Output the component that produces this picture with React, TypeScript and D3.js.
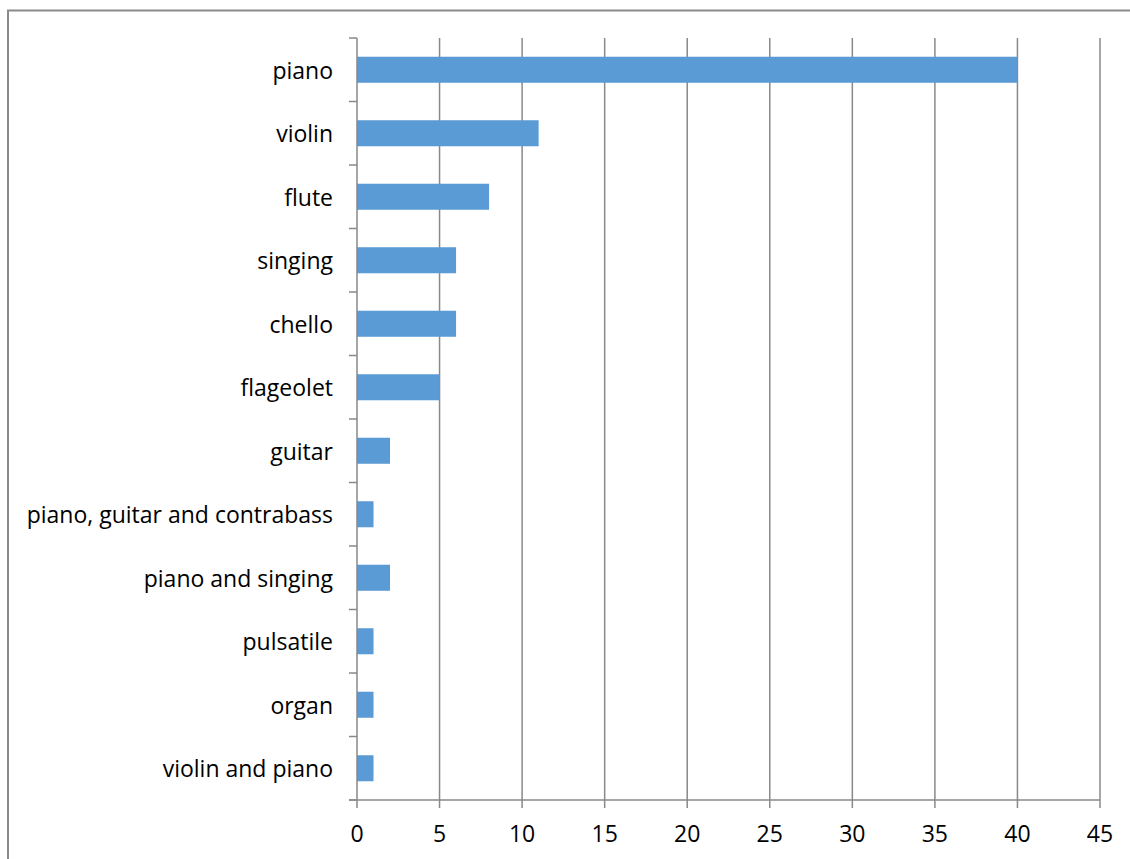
import React from "react";
import * as d3 from "d3";

// Instruments and number of players
const instruments = [
  "piano",
  "violin",
  "flute",
  "singing",
  "chello",
  "flageolet",
  "guitar",
  "piano, guitar and contrabass",
  "piano and singing",
  "pulsatile",
  "organ",
  "violin and piano",
];
const counts = [40, 11, 8, 6, 6, 5, 2, 1, 2, 1, 1, 1];
const xTicks = [0, 5, 10, 15, 20, 25, 30, 35, 40, 45];

const W = 1130;
const H = 859;
const margin = { left: 357, right: 30, top: 38, bottom: 59 };
const gridColor = "#898989";
const barColor = "#5B9BD5";
const font = "'Open Sans', 'DejaVu Sans', sans-serif";
const fontSize = 23;

export default function App() {
  const x = d3.scaleLinear().domain([0, 45]).range([margin.left, W - margin.right]);
  const y = d3
    .scaleBand<string>()
    .domain(instruments)
    .range([margin.top, H - margin.bottom])
    .paddingInner(0.59)
    .paddingOuter(0.295);
  const band = (H - margin.bottom - margin.top) / instruments.length;
  const bandEdges = d3.range(instruments.length + 1).map((i) => margin.top + i * band);
  const y0 = margin.top;
  const y1 = H - margin.bottom;

  return (
    <svg
      width={W}
      height={H}
      style={{ position: "absolute", left: 0, top: 0, background: "#fff" }}
    >
      {/* outer chart frame */}
      <path d={`M8,${H} V10.5 H${W}`} fill="none" stroke="#8a8a8a" strokeWidth={2} />

      {/* vertical gridlines */}
      {xTicks.slice(1).map((t) => (
        <line key={t} x1={x(t)} x2={x(t)} y1={y0} y2={y1} stroke={gridColor} strokeWidth={1.5} />
      ))}

      {/* bars */}
      {instruments.map((name, i) => (
        <rect
          key={name}
          x={x(0)}
          y={y(name)}
          width={x(counts[i]) - x(0)}
          height={y.bandwidth()}
          fill={barColor}
        />
      ))}

      {/* category axis */}
      <line x1={x(0)} x2={x(0)} y1={y0} y2={y1} stroke={gridColor} strokeWidth={1.5} />
      {bandEdges.map((e, i) => (
        <line key={i} x1={x(0) - 8} x2={x(0)} y1={e} y2={e} stroke={gridColor} strokeWidth={1.5} />
      ))}
      {instruments.map((name) => (
        <text
          key={name}
          x={x(0) - 24}
          y={(y(name) as number) + y.bandwidth() / 2}
          textAnchor="end"
          dominantBaseline="central"
          fontFamily={font}
          fontSize={fontSize}
          fill="#000"
        >
          {name}
        </text>
      ))}

      {/* value axis */}
      <line x1={x(0) - 8} x2={x(45)} y1={y1} y2={y1} stroke={gridColor} strokeWidth={1.5} />
      {xTicks.map((t) => (
        <g key={t}>
          <line x1={x(t)} x2={x(t)} y1={y1} y2={y1 + 8} stroke={gridColor} strokeWidth={1.5} />
          <text
            x={x(t)}
            y={y1 + 33}
            textAnchor="middle"
            dominantBaseline="central"
            fontFamily={font}
            fontSize={fontSize}
            fill="#000"
          >
            {t}
          </text>
        </g>
      ))}
    </svg>
  );
}
